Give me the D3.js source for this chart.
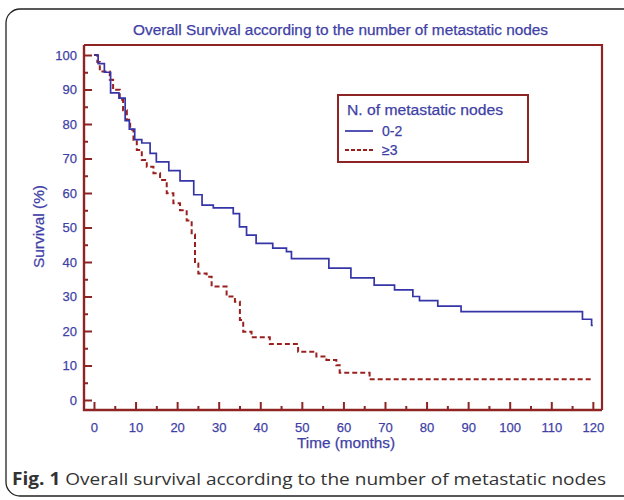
<!DOCTYPE html>
<html><head><meta charset="utf-8">
<script src="https://cdn.jsdelivr.net/npm/d3@7/dist/d3.min.js"></script>
<style>body{margin:0;background:#fff}svg{display:block}</style>
</head><body>
<svg id="c" width="624" height="500"></svg>
<script>
// ---- data ----
const seriesNames = ["0-2", "\u22653"];
const timeLow = [0, 1, 2.5, 4, 6, 7.5, 8.5, 9.8, 11.5, 13.5, 15, 18, 20.7, 24, 26, 28.7, 33.5, 35, 36.7, 39, 43, 46.3, 47.5, 56.5, 61.8, 67.4, 72.3, 76.7, 78.3, 82.7, 88.3, 117.5, 119.7, 120];
const survLow = [100, 97.5, 95, 89, 87.5, 81, 78.5, 75.5, 74.5, 71.5, 69, 66.5, 63.5, 59.5, 56.5, 55.7, 54, 50.2, 47.8, 45.4, 44, 43, 41, 38.2, 35.4, 33.3, 31.9, 30, 28.8, 27.2, 25.6, 23.4, 21.6, 21.6];
const timeHigh = [0, 0.8, 1.4, 3.8, 4.6, 6.2, 7, 7.9, 8.7, 9.5, 10.3, 11.5, 12.7, 14.3, 15.9, 17.5, 19.1, 20.7, 22.3, 23.5, 24.3, 25.1, 27.1, 28.3, 31.9, 33.9, 35.1, 35.9, 37.9, 42.3, 49.1, 53.5, 55.9, 58.3, 59.1, 66.3, 120];
const survHigh = [100, 98, 95.2, 92.8, 89.9, 87, 84, 81.2, 78.3, 75.4, 72.5, 69.6, 67.6, 65.7, 63.8, 59.9, 57, 55, 52, 48, 39.6, 36.7, 35.7, 32.9, 30, 28.5, 23.2, 19.8, 18.2, 16.2, 14, 12.6, 11.6, 10.1, 7.9, 6, 6];
const xTicks = [0, 10, 20, 30, 40, 50, 60, 70, 80, 90, 100, 110, 120];
const yTicks = [0, 10, 20, 30, 40, 50, 60, 70, 80, 90, 100];
const titleText = "Overall Survival according to the number of metastatic nodes";
const legendTitle = "N. of metastatic nodes";
const xLabel = "Time (months)";
const yLabel = "Survival (%)";
const captionBold = "Fig. 1";
const captionRest = " Overall survival according to the number of metastatic nodes";

// ---- drawing ----
const svg = d3.select("#c");
const axisCol = "#8e2424", textCol = "#3f3fa6", blueCol = "#3535a8", redCol = "#9a2020";
const L = 84, R = 602, T = 45, B = 410;
const x = d3.scaleLinear().domain([-2.4, 122.2]).range([L, R]);
const y = d3.scaleLinear().domain([-2.9, 102.9]).range([B, T]);
const font = "'Liberation Sans', Arial, sans-serif";

function label(sel, size, len) {
  sel.attr("fill", textCol).attr("stroke", textCol).attr("stroke-width", 0.25)
    .style("font-family", font).style("font-size", size + "px");
  if (len) sel.attr("textLength", len).attr("lengthAdjust", "spacingAndGlyphs");
  return sel;
}

// outer rounded border
svg.append("rect").attr("x", 6).attr("y", 9).attr("width", 640).attr("height", 487)
  .attr("rx", 14).attr("fill", "none").attr("stroke", "#222").attr("stroke-width", 1.3);

// frame (top/right)
svg.append("path").attr("d", `M${L},${T}H${R}V${B}`).attr("fill", "none")
  .attr("stroke", axisCol).attr("stroke-width", 2.2);

// axes
const xAxis = d3.axisBottom(x).tickValues(xTicks).tickSize(-8).tickPadding(13);
const gx = svg.append("g").attr("transform", `translate(0,${B})`).call(xAxis);
const xMinor = d3.axisBottom(x).tickValues(d3.range(5, 120, 10)).tickSize(-4).tickFormat("");
const gxm = svg.append("g").attr("transform", `translate(0,${B})`).call(xMinor);
const yAxis = d3.axisLeft(y).tickValues(yTicks).tickSize(-8).tickPadding(8);
const gy = svg.append("g").attr("transform", `translate(${L},0)`).call(yAxis);
const yMinor = d3.axisLeft(y).tickValues(d3.range(5, 100, 10)).tickSize(-4).tickFormat("");
const gym = svg.append("g").attr("transform", `translate(${L},0)`).call(yMinor);
[gx, gxm, gy, gym].forEach(g => {
  g.select(".domain").remove();
  g.selectAll("line").attr("stroke", axisCol).attr("stroke-width", 2);
  label(g.selectAll("text"), 13);
});
gy.selectAll(".tick text").attr("x", -7);
// axis lines
svg.append("path").attr("d", `M${L},${T}V${B}H${R}`).attr("fill", "none")
  .attr("stroke", axisCol).attr("stroke-width", 2.4);

// curves
const line = d3.line().x(d => x(d[0])).y(d => y(d[1])).curve(d3.curveStepAfter);
const lowData = timeLow.map((t, i) => [t, survLow[i]]);
const highData = timeHigh.map((t, i) => [t, survHigh[i]]);
svg.append("path").datum(highData).attr("d", line).attr("fill", "none")
  .attr("stroke", redCol).attr("stroke-width", 2).attr("stroke-dasharray", "5,3");
svg.append("path").datum(lowData).attr("d", line).attr("fill", "none")
  .attr("stroke", blueCol).attr("stroke-width", 1.7);

// title
label(svg.append("text").attr("x", 133).attr("y", 35), 14, 415).text(titleText);
// axis labels
label(svg.append("text").attr("x", 297).attr("y", 448), 14, 98).text(xLabel);
label(svg.append("text").attr("transform", "translate(44,268) rotate(-90)"), 14, 83).text(yLabel);

// legend
const lg = svg.append("g");
lg.append("rect").attr("x", 338).attr("y", 95).attr("width", 190).attr("height", 67)
  .attr("fill", "#fff").attr("stroke", axisCol).attr("stroke-width", 2);
label(lg.append("text").attr("x", 347).attr("y", 115), 14, 156).text(legendTitle);
lg.append("line").attr("x1", 345).attr("x2", 373).attr("y1", 131).attr("y2", 131)
  .attr("stroke", blueCol).attr("stroke-width", 1.7);
lg.append("line").attr("x1", 345).attr("x2", 373).attr("y1", 150).attr("y2", 150)
  .attr("stroke", redCol).attr("stroke-width", 2).attr("stroke-dasharray", "4,2");
label(lg.append("text").attr("x", 382).attr("y", 136), 14).text(seriesNames[0]);
label(lg.append("text").attr("x", 382).attr("y", 155), 14).text(seriesNames[1]);

// caption
const cap = svg.append("text").attr("x", 12).attr("y", 485).attr("fill", "#333")
  .style("font-family", "'Open Sans', sans-serif").style("font-size", "17px");
cap.append("tspan").attr("font-weight", "bold").text(captionBold);
cap.append("tspan").text(captionRest);
cap.attr("textLength", 594).attr("lengthAdjust", "spacingAndGlyphs");
</script>
</body></html>
